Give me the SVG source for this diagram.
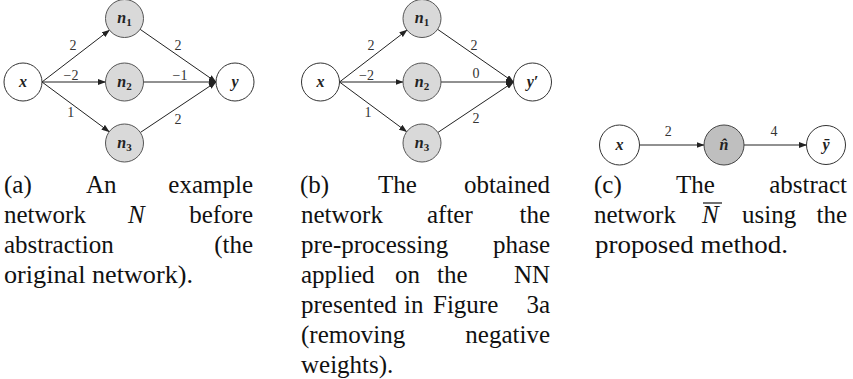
<svg xmlns="http://www.w3.org/2000/svg" width="853" height="379" viewBox="0 0 853 379">
<style>
.nw{fill:#fff;stroke:#333;stroke-width:1}
.ng{fill:#d9d9d9;stroke:#555;stroke-width:1}
.nd{fill:#bfbfbf;stroke:#444;stroke-width:1}
.nl{font-family:"Liberation Serif",serif;font-style:italic;font-weight:bold;font-size:16px;fill:#222;text-anchor:middle}
.sub{font-style:normal;font-size:11px}
.e{stroke:#222;stroke-width:1;fill:none;marker-end:url(#ah)}
.el{font-family:"Liberation Serif",serif;font-size:14px;fill:#333;text-anchor:middle}
.c{font-family:"Liberation Serif",serif;font-size:25px;fill:#111}
.r{text-anchor:end}
.i{font-style:italic}
</style>
<defs>
<marker id="ah" markerWidth="8" markerHeight="6" refX="7.5" refY="3" orient="auto" markerUnits="userSpaceOnUse">
<path d="M0,0 L8,3 L0,6 z" fill="#222"/>
</marker>
</defs>

<!-- Panel (a) -->
<g id="panel-a">
<g id="a-connectors">
<line class="e" x1="42" y1="82" x2="109.5" y2="30.1"/>
<line class="e" x1="42" y1="82" x2="105.5" y2="82"/>
<line class="e" x1="42" y1="82" x2="109.2" y2="131.7"/>
<line class="e" x1="140.1" y1="29.3" x2="216" y2="82"/>
<line class="e" x1="143.5" y1="82" x2="216" y2="82"/>
<line class="e" x1="140.3" y1="132.5" x2="216" y2="82"/>
<text class="el" x="73" y="50">2</text>
<text class="el" x="71" y="80">−2</text>
<text class="el" x="70.7" y="117">1</text>
<text class="el" x="178" y="50">2</text>
<text class="el" x="180" y="80">−1</text>
<text class="el" x="178" y="124">2</text>
</g>
<g id="a-x"><circle class="nw" cx="23" cy="82" r="19"/><text class="nl" x="23" y="87">x</text></g>
<g id="a-n1"><circle class="ng" cx="124.5" cy="18.5" r="19"/><text class="nl" x="124.5" y="23">n<tspan class="sub" dy="3">1</tspan></text></g>
<g id="a-n2"><circle class="ng" cx="124.5" cy="82" r="19"/><text class="nl" x="124.5" y="86.5">n<tspan class="sub" dy="3">2</tspan></text></g>
<g id="a-n3"><circle class="ng" cx="124.5" cy="143" r="19"/><text class="nl" x="124.5" y="147.5">n<tspan class="sub" dy="3">3</tspan></text></g>
<g id="a-y"><circle class="nw" cx="235" cy="82" r="19"/><text class="nl" x="235" y="87">y</text></g>
</g>

<!-- Panel (b) -->
<g id="panel-b" transform="translate(297.5,0)">
<g id="b-connectors">
<line class="e" x1="42" y1="82" x2="109.5" y2="30.1"/>
<line class="e" x1="42" y1="82" x2="105.5" y2="82"/>
<line class="e" x1="42" y1="82" x2="109.2" y2="131.7"/>
<line class="e" x1="140.1" y1="29.3" x2="216" y2="82"/>
<line class="e" x1="143.5" y1="82" x2="216" y2="82"/>
<line class="e" x1="140.3" y1="132.5" x2="216" y2="82"/>
<text class="el" x="73.5" y="50">2</text>
<text class="el" x="69" y="80">−2</text>
<text class="el" x="70.5" y="117">1</text>
<text class="el" x="176.5" y="50">2</text>
<text class="el" x="178.5" y="78">0</text>
<text class="el" x="178.5" y="123">2</text>
</g>
<g id="b-x"><circle class="nw" cx="23" cy="82" r="19"/><text class="nl" x="23" y="87">x</text></g>
<g id="b-n1"><circle class="ng" cx="124.5" cy="18.5" r="19"/><text class="nl" x="124.5" y="23">n<tspan class="sub" dy="3">1</tspan></text></g>
<g id="b-n2"><circle class="ng" cx="124.5" cy="82" r="19"/><text class="nl" x="124.5" y="86.5">n<tspan class="sub" dy="3">2</tspan></text></g>
<g id="b-n3"><circle class="ng" cx="124.5" cy="143" r="19"/><text class="nl" x="124.5" y="147.5">n<tspan class="sub" dy="3">3</tspan></text></g>
<g id="b-y"><circle class="nw" cx="235" cy="82" r="19"/><text class="nl" x="235" y="87">y′</text></g>
</g>

<!-- Panel (c) -->
<g id="panel-c">
<g id="c-connectors">
<line class="e" x1="640" y1="145" x2="704" y2="145"/>
<line class="e" x1="744" y1="145" x2="806.5" y2="145"/>
<text class="el" x="668.3" y="136">2</text>
<text class="el" x="774" y="136">4</text>
</g>
<g id="c-x"><circle class="nw" cx="619.5" cy="145" r="20"/><text class="nl" x="619.5" y="150">x</text></g>
<g id="c-nhat"><circle class="nd" cx="724" cy="145" r="20"/><text class="nl" x="724" y="150">n̂</text></g>
<g id="c-ybar"><circle class="nw" cx="826" cy="145" r="19.5"/><text class="nl" x="826" y="150">ȳ</text></g>
</g>

<!-- Captions -->
<g id="caption-a" class="c">
<text x="4" y="193">(a)</text><text x="86" y="193">An</text><text class="r" x="253" y="193">example</text>
<text x="4" y="223">network</text><text class="i" x="128" y="223">N</text><text class="r" x="253" y="223">before</text>
<text x="4" y="253">abstraction</text><text class="r" x="253" y="253">(the</text>
<text x="4" y="283" textLength="189" lengthAdjust="spacingAndGlyphs">original network).</text>
</g>
<g id="caption-b" class="c">
<text x="300" y="193">(b)</text><text x="378" y="193">The</text><text class="r" x="550" y="193">obtained</text>
<text x="301" y="223">network</text><text x="427" y="223">after</text><text class="r" x="550" y="223">the</text>
<text x="301" y="253">pre-processing</text><text class="r" x="550" y="253">phase</text>
<text x="301" y="283">applied</text><text x="395" y="283">on</text><text x="437" y="283">the</text><text class="r" x="550" y="283">NN</text>
<text x="301" y="313">presented</text><text x="404" y="313">in</text><text x="433" y="313">Figure</text><text class="r" x="550" y="313">3a</text>
<text x="301" y="343">(removing</text><text class="r" x="550" y="343">negative</text>
<text x="301" y="373">weights).</text>
</g>
<g id="caption-c" class="c">
<text x="594" y="193">(c)</text><text x="676" y="193">The</text><text class="r" x="847" y="193">abstract</text>
<text x="594" y="223">network</text><text class="i" x="702" y="223">N</text><line x1="703" y1="203" x2="722" y2="203" stroke="#111" stroke-width="1.2"/><text x="742" y="223">using</text><text class="r" x="847" y="223">the</text>
<text x="595" y="253" textLength="193" lengthAdjust="spacingAndGlyphs">proposed method.</text>
</g>
</svg>
